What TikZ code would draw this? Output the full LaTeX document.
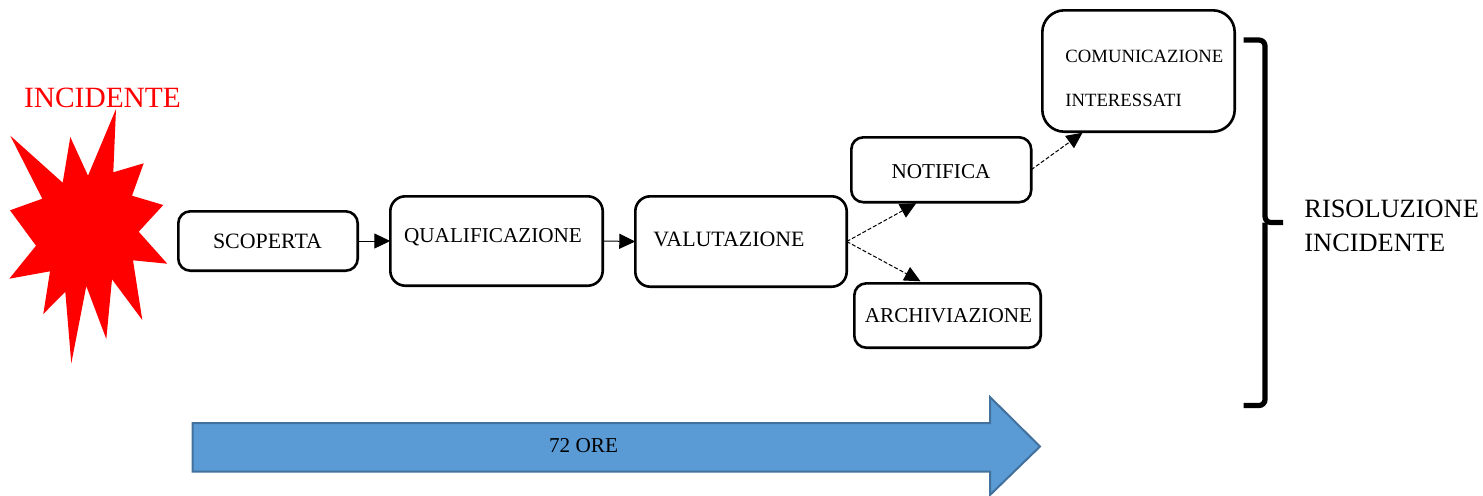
\documentclass[tikz,border=0pt]{standalone}
\usepackage{fontspec}
\setmainfont{Liberation Serif}
\usetikzlibrary{arrows.meta}
\tikzset{
  flowbox/.style={draw=black,line width=1.3pt,rounded corners=#1,inner sep=0pt,outer sep=0pt,fill=white},
  flowbox/.default=6pt,
  boxtext/.style={font=\fontsize{10.6}{12}\selectfont,inner sep=0pt,anchor=center},
  widetext/.style={font=\fontsize{10.95}{12}\selectfont,inner sep=0pt,anchor=center},
  smalltext/.style={font=\fontsize{9.35}{11}\selectfont,inner sep=0pt,anchor=west},
  solidlink/.style={line width=0.5pt,-{Triangle[length=8pt,width=7.5pt]}},
  dashlink/.style={line width=0.5pt,dash pattern=on 2pt off 1pt,-{Triangle[length=8pt,width=7.5pt]}},
}
\newcommand{\pxbox}[6]{% name, x0, y0, x1, y1, radius
  \node[flowbox=#6,minimum width=#4*0.5pt-#2*0.5pt-0.3pt,minimum height=#5*0.5pt-#3*0.5pt-0.3pt] (#1) at ({(#2+#4)/2},{(#3+#5)/2}) {};
}
\begin{document}
\begin{tikzpicture}[x=0.5pt,y=-0.5pt]
\useasboundingbox (0,0) rectangle (1483,495);
% star
\fill[red] (116,109) -- (113.3,172.3) -- (143.7,163.3) -- (132,195.7) -- (163.3,205) -- (138.7,231.7) -- (167.3,263.7) -- (133,260.3) -- (142.3,320) -- (112,279.3) -- (106.3,339) -- (86.3,286) -- (71.3,363.3) -- (65.3,291.7) -- (43.3,314) -- (50,271.3) -- (9.3,278.7) -- (36,245.7) -- (10,210.3) -- (42.3,198.7) -- (10.3,135.7) -- (62.7,182.7) -- (70.3,137) -- (88,175.7) -- cycle;
\node[font=\fontsize{14.7}{17}\selectfont,text=red,inner sep=0pt] (incidente) at (102.5,97.5) {INCIDENTE};
% boxes
\pxbox{scoperta}{178}{211}{358}{271}{6pt}
\pxbox{qualifica}{390}{196}{603}{286}{7.5pt}
\pxbox{valuta}{635}{196}{847}{287}{7.5pt}
\pxbox{notifica}{851}{137}{1031.5}{202.5}{6pt}
\pxbox{archivia}{854}{283}{1041}{348}{6pt}
\pxbox{comunica}{1042}{10}{1235}{132}{11pt}
% labels
\node[widetext] (tscoperta) at (267.5,241.5) {SCOPERTA};
\node[boxtext] (tqualifica) at (493,237.5) {QUALIFICAZIONE};
\node[widetext] (tvaluta) at (729,239) {VALUTAZIONE};
\node[boxtext] (tnotifica) at (941,171.5) {NOTIFICA};
\node[boxtext] (tarchivia) at (948.5,315.5) {ARCHIVIAZIONE};
\node[smalltext] (tcom1) at (1065,56.5) {COMUNICAZIONE};
\node[smalltext] (tcom2) at (1065,100.5) {INTERESSATI};
% connectors
\draw[solidlink] (scoperta.east) -- (qualifica.west |- scoperta.east);
\draw[solidlink] (qualifica.east) -- (valuta.west);
\draw[dashlink] (valuta.east) -- ([xshift=-12.5pt,yshift=-0.5pt]notifica.south);
\draw[dashlink] (valuta.east) -- ([xshift=-13.5pt,yshift=1pt]archivia.north);
\draw[dashlink] (notifica.east) -- ([xshift=-28pt,yshift=-0.5pt]comunica.south);
% brace
\draw[line width=2.6pt,rounded corners=3pt] (1243.5,40) -- (1265,40) -- (1265,222.5) -- (1283,222.5);
\draw[line width=2.6pt,rounded corners=3pt] (1243.5,405.5) -- (1265,405.5) -- (1265,222.5);
\node[font=\fontsize{13.2}{17}\selectfont,align=left,anchor=west,inner sep=0pt] (risoluzione) at (1304,225.5) {RISOLUZIONE\\INCIDENTE};
% big arrow
\path[fill={rgb,255:red,91;green,155;blue,213},draw={rgb,255:red,65;green,113;blue,156},line width=1pt] (192.5,423) -- (990,423) -- (990,397) -- (1040,446.5) -- (990,495) -- (990,471.5) -- (192.5,471.5) -- cycle;
\node[boxtext] (ore) at (583.5,446) {72 ORE};
\end{tikzpicture}
\end{document}
